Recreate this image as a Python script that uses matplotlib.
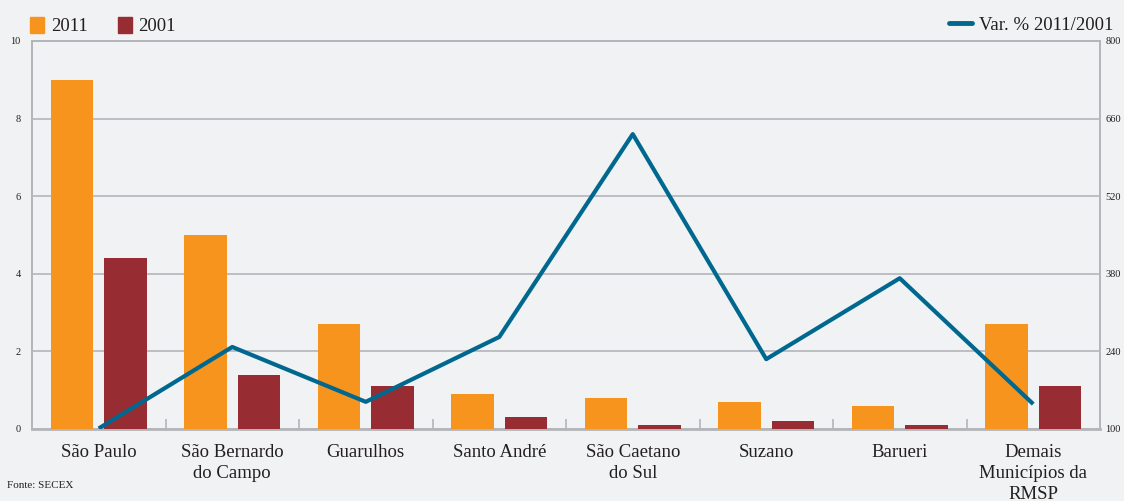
import matplotlib
matplotlib.use("Agg")
import matplotlib.pyplot as plt
import numpy as np
from matplotlib.lines import Line2D
from matplotlib.patches import Patch

categories = ["São Paulo", "São Bernardo\ndo Campo", "Guarulhos", "Santo André",
              "São Caetano\ndo Sul", "Suzano", "Barueri", "Demais\nMunicípios da\nRMSP"]
v2011 = [9.0, 5.0, 2.7, 0.9, 0.8, 0.7, 0.6, 2.7]
v2001 = [4.4, 1.4, 1.1, 0.3, 0.1, 0.2, 0.1, 1.1]
var_pct = [101, 248, 149, 266, 632, 226, 372, 145]

BG = "#f1f2f4"
ORANGE = "#f7941d"
RED = "#972d33"
BLUE = "#00688f"
GRID = "#b4b5b8"
TXT = "#231f20"

plt.rcParams["font.family"] = ["Liberation Serif", "DejaVu Serif"]

fig = plt.figure(figsize=(11.24, 5.01), dpi=100, facecolor=BG)
ax = fig.add_axes([32 / 1124, 1 - 429 / 501, 1068 / 1124, 388 / 501])
ax.set_facecolor(BG)

x = np.arange(len(categories))
w = 0.32
ax.bar(x - 0.2, v2011, w, color=ORANGE, zorder=3)
ax.bar(x + 0.2, v2001, w, color=RED, zorder=3)

ax.set_xlim(-0.5, len(categories) - 0.5)
ax.set_ylim(0, 10)
ax.set_yticks([0, 2, 4, 6, 8, 10])
ax.grid(axis="y", color=GRID, linewidth=1.2, zorder=0)
ax.set_xticks(x)
ax.set_xticklabels(categories, fontsize=13.5, color=TXT, linespacing=1.3)
ax.set_xticks(np.arange(0.5, len(categories) - 0.5, 1), minor=True)
ax.tick_params(axis="x", which="major", length=0, pad=11)
ax.tick_params(axis="x", which="minor", direction="in", length=7, color=GRID, width=1.2)
ax.tick_params(axis="y", length=0, labelsize=7.5, labelcolor=TXT, pad=8)
for s in ax.spines.values():
    s.set_color(GRID)
    s.set_linewidth(1.2)
ax.spines["bottom"].set_linewidth(2)

ax2 = ax.twinx()
ax2.plot(x, var_pct, color=BLUE, linewidth=3, zorder=5, solid_capstyle="butt")
ax2.set_ylim(100, 800)
ax2.set_yticks([100, 240, 380, 520, 660, 800])
ax2.tick_params(axis="y", length=0, labelsize=7.5, labelcolor=TXT, pad=4)
for s in ax2.spines.values():
    s.set_color(GRID)
    s.set_linewidth(1.2)
ax2.spines["bottom"].set_visible(False)

h1 = [Patch(color=ORANGE), Patch(color=RED)]
fig.legend(h1, ["2011", "2001"], loc="upper left", bbox_to_anchor=(0.012, 1.0),
           ncol=2, frameon=False, fontsize=13.5, handlelength=0.75, handleheight=0.95,
           handletextpad=0.35, columnspacing=1.6, labelcolor=TXT)
h2 = [Line2D([0], [0], color=BLUE, linewidth=3.5, solid_capstyle="round")]
fig.legend(h2, ["Var. % 2011/2001"], loc="upper right", bbox_to_anchor=(1.006, 1.0),
           frameon=False, fontsize=13.5, handlelength=1.2, handletextpad=0.4, labelcolor=TXT)

fig.text(7 / 1124, 1 - 486 / 501, "Fonte: SECEX", fontsize=8, color=TXT, va="center")

fig.savefig("out.png", dpi=100, facecolor=BG)
